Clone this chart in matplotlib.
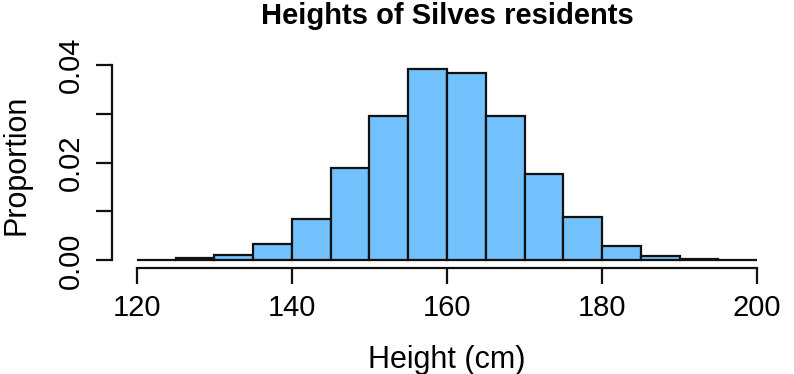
import matplotlib
matplotlib.use("Agg")
import matplotlib.pyplot as plt
import numpy as np

plt.rcParams['font.family'] = ['Liberation Sans', 'DejaVu Sans']

bin_edges = [120, 125, 130, 135, 140, 145, 150, 155, 160, 165, 170, 175, 180, 185, 190, 195, 200]
proportions = [0.0001, 0.0005, 0.0010, 0.0034, 0.0084, 0.0190, 0.0296, 0.0392,
               0.0384, 0.0296, 0.0177, 0.0089, 0.0029, 0.0009, 0.0002, 0.0001]
x_ticks = [120, 140, 160, 180, 200]
y_ticks = [0.00, 0.01, 0.02, 0.03, 0.04]
y_tick_labels = ["0.00", "", "0.02", "", "0.04"]

W, H = 794, 374
fig = plt.figure(figsize=(W / 100, H / 100), dpi=100)
ax = fig.add_axes([112 / W, 1 - 268 / H, (782 - 112) / W, (268 - 61) / H])

lefts = np.array(bin_edges[:-1])
widths = np.diff(bin_edges)
ax.bar(lefts, proportions, width=widths, align='edge', color='#72C0FC',
       edgecolor='#111111', linewidth=1.6)

ax.set_xlim(116.8, 203.2)
ax.set_ylim(-0.00157, 0.0408)

for s in ['top', 'right']:
    ax.spines[s].set_visible(False)
ax.spines['left'].set_bounds(0, 0.04)
ax.spines['bottom'].set_bounds(120, 200)
for s in ['left', 'bottom']:
    ax.spines[s].set_linewidth(1.6)
    ax.spines[s].set_color('#111111')

ax.set_xticks(x_ticks)
ax.set_xticklabels([str(v) for v in x_ticks], fontsize=21)
ax.set_yticks(y_ticks)
ax.set_yticklabels(y_tick_labels, fontsize=21, rotation=90, va='center')
ax.tick_params(axis='both', direction='out', length=11.5, width=1.6, color='#111111')
ax.tick_params(axis='x', pad=7)
ax.tick_params(axis='y', pad=8)

cx = (112 + 782) / 2 / W
fig.text(cx, 1 - 368 / H, 'Height (cm)', fontsize=22, ha='center', va='baseline')
fig.text(25 / W, 1 - 164.5 / H, 'Proportion', fontsize=22, rotation=90,
         rotation_mode='anchor', ha='center', va='baseline')
fig.text(cx, 1 - 24 / H, 'Heights of Silves residents', fontsize=21,
         fontweight='bold', ha='center', va='baseline')

fig.savefig('out.png', dpi=100)
